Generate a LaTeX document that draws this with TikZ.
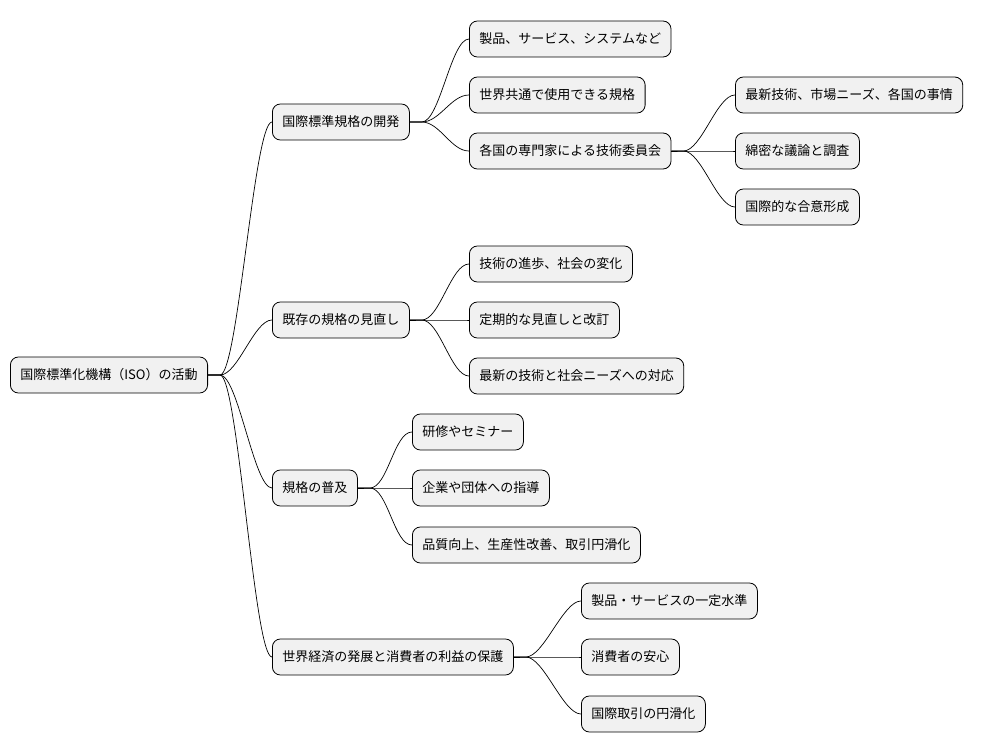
\documentclass[tikz,border=0pt]{standalone}
\usepackage{fontspec}
\setmainfont{Noto Sans CJK JP}
\begin{document}
\begin{tikzpicture}[x=1pt,y=-1pt,
  box/.style={draw=black,line width=0.8pt,fill={rgb,255:red,241;green,241;blue,241},rounded corners=8pt,anchor=west,minimum height=36pt,inner xsep=10pt,font=\fontsize{13}{15}\selectfont},
  link/.style={line width=0.7pt}]
\useasboundingbox (0,0) rectangle (989,752);
\node[box] (r) at (10,375) {国際標準化機構（ISO）の活動};
\node[box] (a) at (272,122) {国際標準規格の開発};
\node[box] (b) at (272,320) {既存の規格の見直し};
\node[box] (c) at (272,488) {規格の普及};
\node[box] (d) at (272,657) {世界経済の発展と消費者の利益の保護};
\node[box] (a1) at (469,39) {製品、サービス、システムなど};
\node[box] (a2) at (469,95) {世界共通で使用できる規格};
\node[box] (a3) at (469,151) {各国の専門家による技術委員会};
\node[box] (a31) at (735,95) {最新技術、市場ニーズ、各国の事情};
\node[box] (a32) at (735,151) {綿密な議論と調査};
\node[box] (a33) at (735,207) {国際的な合意形成};
\node[box] (b1) at (469,264) {技術の進歩、社会の変化};
\node[box] (b2) at (469,320) {定期的な見直しと改訂};
\node[box] (b3) at (469,376) {最新の技術と社会ニーズへの対応};
\node[box] (c1) at (412,432) {研修やセミナー};
\node[box] (c2) at (412,488) {企業や団体への指導};
\node[box] (c3) at (412,545) {品質向上、生産性改善、取引円滑化};
\node[box] (d1) at (581,601) {製品・サービスの一定水準};
\node[box] (d2) at (581,657) {消費者の安心};
\node[box] (d3) at (581,714) {国際取引の円滑化};
\foreach \p/\c in {r/a,r/b,r/c,r/d,a/a1,a/a2,a/a3,a3/a31,a3/a32,a3/a33,b/b1,b/b2,b/b3,c/c1,c/c2,c/c3,d/d1,d/d2,d/d3}
  \draw[link] (\p.east) -- ++(12,0) .. controls +(18,0) and +(-18,0) .. (\c.west);
\end{tikzpicture}
\end{document}
